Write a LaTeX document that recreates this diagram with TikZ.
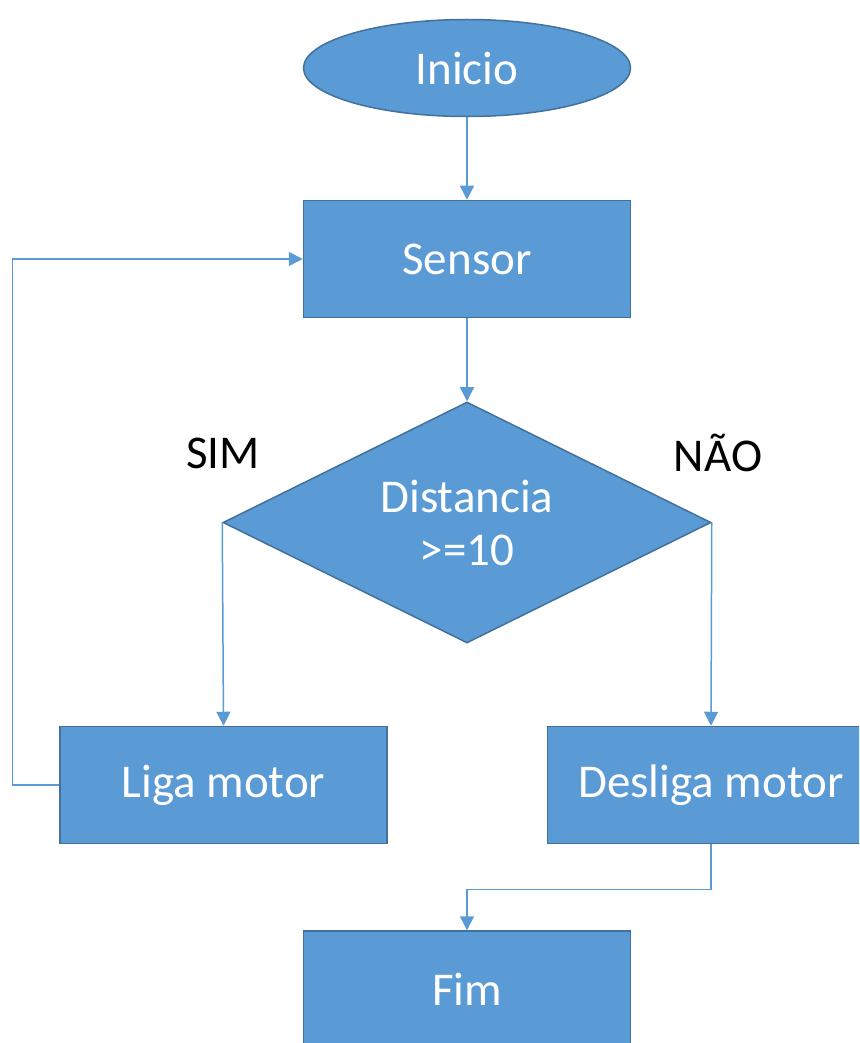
\documentclass[tikz,border=0pt]{standalone}
\usepackage{fontspec}
\setmainfont{Carlito}
\usetikzlibrary{shapes.geometric,arrows.meta}
\definecolor{boxfill}{HTML}{5B9BD5}
\definecolor{boxedge}{HTML}{41719C}
\definecolor{wire}{HTML}{5B9BD5}
\tikzset{
  every node/.style={font=\fontsize{47}{57}\selectfont},
  block/.style={rectangle, draw=boxedge, fill=boxfill, line width=1.5pt,
    minimum width=327pt, minimum height=117pt, inner sep=0pt, text=white},
  terminal/.style={ellipse, draw=boxedge, fill=boxfill, line width=1.5pt,
    minimum width=327pt, minimum height=97pt, inner sep=0pt, text=white},
  decision/.style={diamond, draw=boxedge, fill=boxfill, line width=1.5pt,
    minimum width=488pt, minimum height=241pt, aspect=2.025, inner sep=0pt,
    align=center, text=white},
  branch/.style={text=black, inner sep=0pt},
  flow/.style={draw=wire, line width=1.5pt, -{Triangle[length=14pt,width=14pt]}},
}
\begin{document}
\begin{tikzpicture}[x=1pt, y=-1pt]
  \clip (0,0) rectangle (859,1043);
  \useasboundingbox (0,0) rectangle (859,1043);
  \node[terminal] (inicio) at (467,68) {Inicio};
  \node[block] (sensor) at (467,259) {Sensor};
  \node[decision] (dec) at (467,522.5) {Distancia\\[-4pt]>=10};
  \node[branch] (sim) at (223,453) {SIM};
  \node[branch] (nao) at (718,453) {NÃO};
  \node[block] (liga) at (223.5,785) {Liga motor};
  \node[block] (desliga) at (711,785) {Desliga motor};
  \node[block] (fim) at (467,989.5) {Fim};

  \draw[flow] (inicio) -- (sensor);
  \draw[flow] (sensor) -- (dec);
  \draw[flow] (dec.west) -- (liga.north);
  \draw[flow] (dec.east) -- (desliga.north);
  \draw[flow] (liga.west) -- ++(-47,0) |- (sensor.west);
  \draw[flow] (desliga.south) -- ++(0,45) -| (fim.north);
\end{tikzpicture}
\end{document}
